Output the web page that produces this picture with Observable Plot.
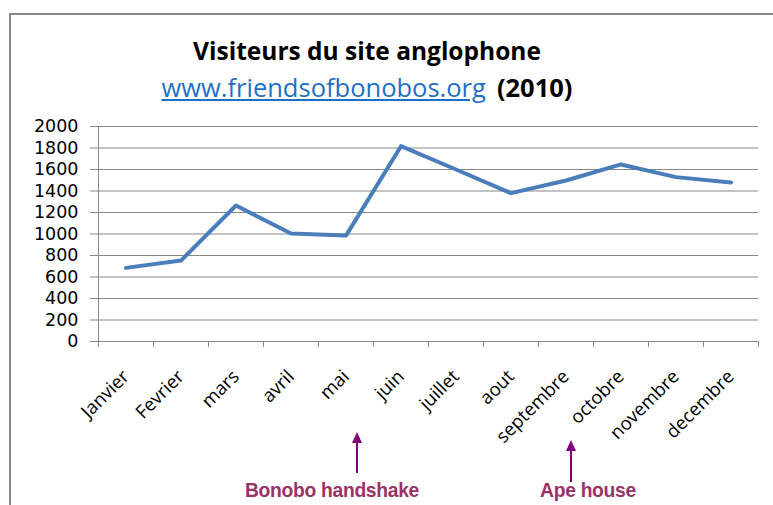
<!DOCTYPE html>
<html>
<head>
<meta charset="utf-8">
<script src="https://cdn.jsdelivr.net/npm/d3@7"></script>
<script src="https://cdn.jsdelivr.net/npm/@observablehq/plot@0.6"></script>
<style>
  html, body { margin: 0; padding: 0; background: #fff; }
  #wrap { position: relative; width: 773px; height: 505px; overflow: hidden; background: #fff; }
  #frame { position: absolute; left: 9px; top: 13px; width: 900px; height: 600px; border-left: 2px solid #8a8a8a; border-top: 2px solid #8a8a8a; box-sizing: border-box; }
  .title { position: absolute; left: 0; width: 734px; text-align: center; font-family: "Open Sans", sans-serif; color: #000; white-space: nowrap; }
  #t1 { top: 34px; font-size: 24.5px; font-weight: 700; }
  #t2 { top: 70px; font-size: 25.5px; }
  #t2 a { color: #1f6fc5; text-decoration: underline; font-weight: 400; }
  #t2 b { font-weight: 700; margin-left: 11px; }
  #chart { position: absolute; left: 0; top: 0; }
  #notes { position: absolute; left: 0; top: 0; }
</style>
</head>
<body>
<div id="wrap">
  <div id="frame"></div>
  <div class="title" id="t1">Visiteurs du site anglophone</div>
  <div class="title" id="t2"><a>www.friendsofbonobos.org</a><b>(2010)</b></div>
  <div id="chart"></div>
  <svg id="notes" width="773" height="505"></svg>
</div>
<script>
const months = ["Janvier","Fevrier","mars","avril","mai","juin","juillet","aout","septembre","octobre","novembre","decembre"];
const visitors = [685, 753, 1265, 1005, 985, 1817, 1600, 1380, 1498, 1647, 1529, 1479];
const yTicks = [0,200,400,600,800,1000,1200,1400,1600,1800,2000];
const annotations = [
  {label: "Bonobo handshake", x: 357, yTip: 432, yTail: 473, tx: 332},
  {label: "Ape house", x: 571, yTip: 440, yTail: 482, tx: 588}
];

const data = months.map((m, i) => ({month: m, value: visitors[i]}));

const W = 773, H = 505;
const mL = 97, mR = 15, mT = 126, mB = 164;
const bw = (W - mL - mR) / months.length;

const plot = Plot.plot({
  width: W,
  height: H,
  marginLeft: mL,
  marginRight: mR,
  marginTop: mT,
  marginBottom: mB,
  style: {fontFamily: "Open Sans, sans-serif", fontSize: "18px", color: "#000", background: "transparent", overflow: "visible"},
  x: {type: "band", domain: months, paddingInner: 0, paddingOuter: 0},
  y: {domain: [0, 2000], ticks: yTicks},
  marks: [
    Plot.gridY(yTicks, {stroke: "#878787", strokeOpacity: 1, strokeWidth: 1}),
    Plot.ruleX([months[0]], {y1: 0, y2: 2000, dx: -bw / 2, stroke: "#878787", strokeWidth: 1}),
    Plot.axisY(yTicks, {tickSize: 7, tickPadding: 12, stroke: "#878787", fontFamily: "DejaVu Sans, sans-serif", fontSize: 17.5, tickFormat: d => String(d), label: null}),
    Plot.axisX(months, {tickSize: 6, text: null, dx: -bw / 2, stroke: "#878787", label: null}),
    Plot.axisX([months[months.length - 1]], {tickSize: 6, text: null, dx: bw / 2, stroke: "#878787", label: null}),
    Plot.axisX(months, {tickSize: 0, tickPadding: 32, tickRotate: -45, fontSize: 18.5, label: null}),
    Plot.line(data, {x: "month", y: "value", stroke: "#4a7ebb", strokeWidth: 4, strokeLinejoin: "round", strokeLinecap: "round"})
  ]
});
document.getElementById("chart").appendChild(plot);

const notes = d3.select("#notes");
for (const a of annotations) {
  notes.append("line").attr("x1", a.x).attr("x2", a.x).attr("y1", a.yTail).attr("y2", a.yTip + 8)
    .attr("stroke", "#800080").attr("stroke-width", 2);
  notes.append("path").attr("d", `M${a.x},${a.yTip} L${a.x - 5},${a.yTip + 11} L${a.x + 5},${a.yTip + 11} Z`).attr("fill", "#800080");
  notes.append("text").attr("x", a.tx).attr("y", 497).attr("text-anchor", "middle")
    .attr("font-family", "Liberation Sans, Arial, sans-serif").attr("font-weight", 700)
    .attr("font-size", 19.3).attr("letter-spacing", -0.3).attr("fill", "#993366").text(a.label);
}
</script>
</body>
</html>
